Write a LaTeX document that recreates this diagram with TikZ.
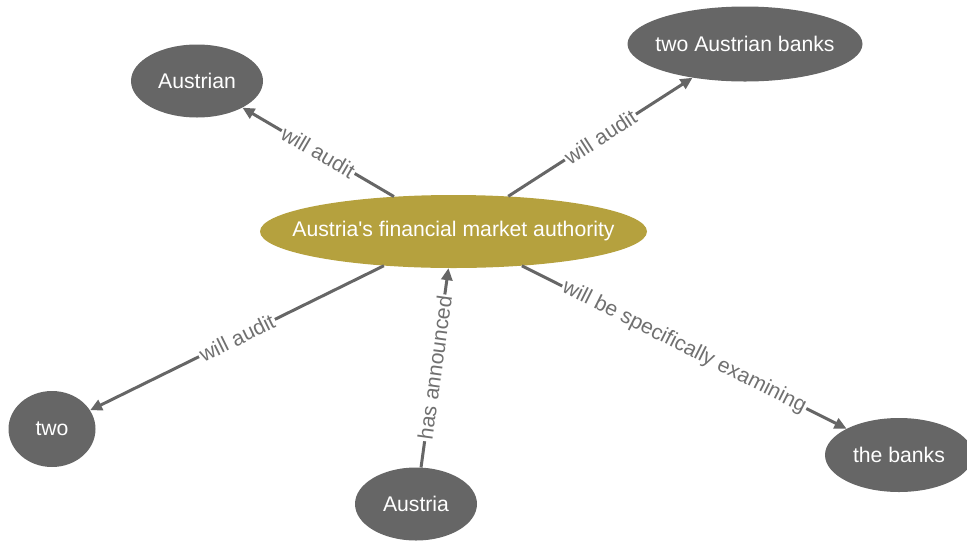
\documentclass[tikz,border=0pt]{standalone}
\usepackage{fontspec}
\setmainfont{Liberation Sans}[Ligatures=TeXOff]
\usetikzlibrary{shapes.geometric,arrows.meta}
\definecolor{nodegrey}{HTML}{666666}
\definecolor{hubgold}{HTML}{B5A13E}
\definecolor{edgegrey}{HTML}{666666}
\definecolor{labelgrey}{HTML}{707070}
% the ellipse size is given explicitly, so the text box gets no width
\newcommand{\entitytext}[1]{\makebox[0pt]{#1}}
\begin{document}
\begin{tikzpicture}[x=1pt,y=-1pt,
  entity/.style={ellipse, fill=nodegrey, text=white, inner sep=0pt,
    font=\fontsize{21.2}{25}\selectfont},
  hub/.style={entity, fill=hubgold},
  rel/.style={draw=edgegrey, line width=3pt,
    -{Triangle[length=12pt,width=11pt]}},
  rellabel/.style={sloped, fill=white, text=labelgrey, inner sep=1.5pt,
    font=\fontsize{21.2}{25}\selectfont}]
\useasboundingbox (0,0) rectangle (967,542);

% entities
\node[hub, minimum width=387pt, minimum height=73pt] (fma) at (453.5,231.5)
  {\entitytext{Austria's financial market authority}};
\node[entity, minimum width=132pt, minimum height=73pt] (austrian) at (197,81)
  {\entitytext{Austrian}};
\node[entity, minimum width=235pt, minimum height=75pt] (twobanks) at (745,44)
  {\entitytext{two Austrian banks}};
\node[entity, minimum width=87pt, minimum height=76pt] (two) at (52,429)
  {\entitytext{two}};
\node[entity, minimum width=122pt, minimum height=73pt] (austria) at (416,504)
  {\entitytext{Austria}};
\node[entity, minimum width=148pt, minimum height=74pt] (banks) at (899,455)
  {\entitytext{the banks}};

% relations
\draw[rel] (fma) -- node[rellabel] {will audit} (austrian);
\draw[rel] (fma) -- node[rellabel] {will audit} (twobanks);
\draw[rel] (fma) -- node[rellabel] {will audit} (two);
\draw[rel] (austria) -- node[rellabel] {has announced} (fma);
\draw[rel] (fma) -- node[rellabel] {will be specifically examining} (banks);
\end{tikzpicture}
\end{document}
